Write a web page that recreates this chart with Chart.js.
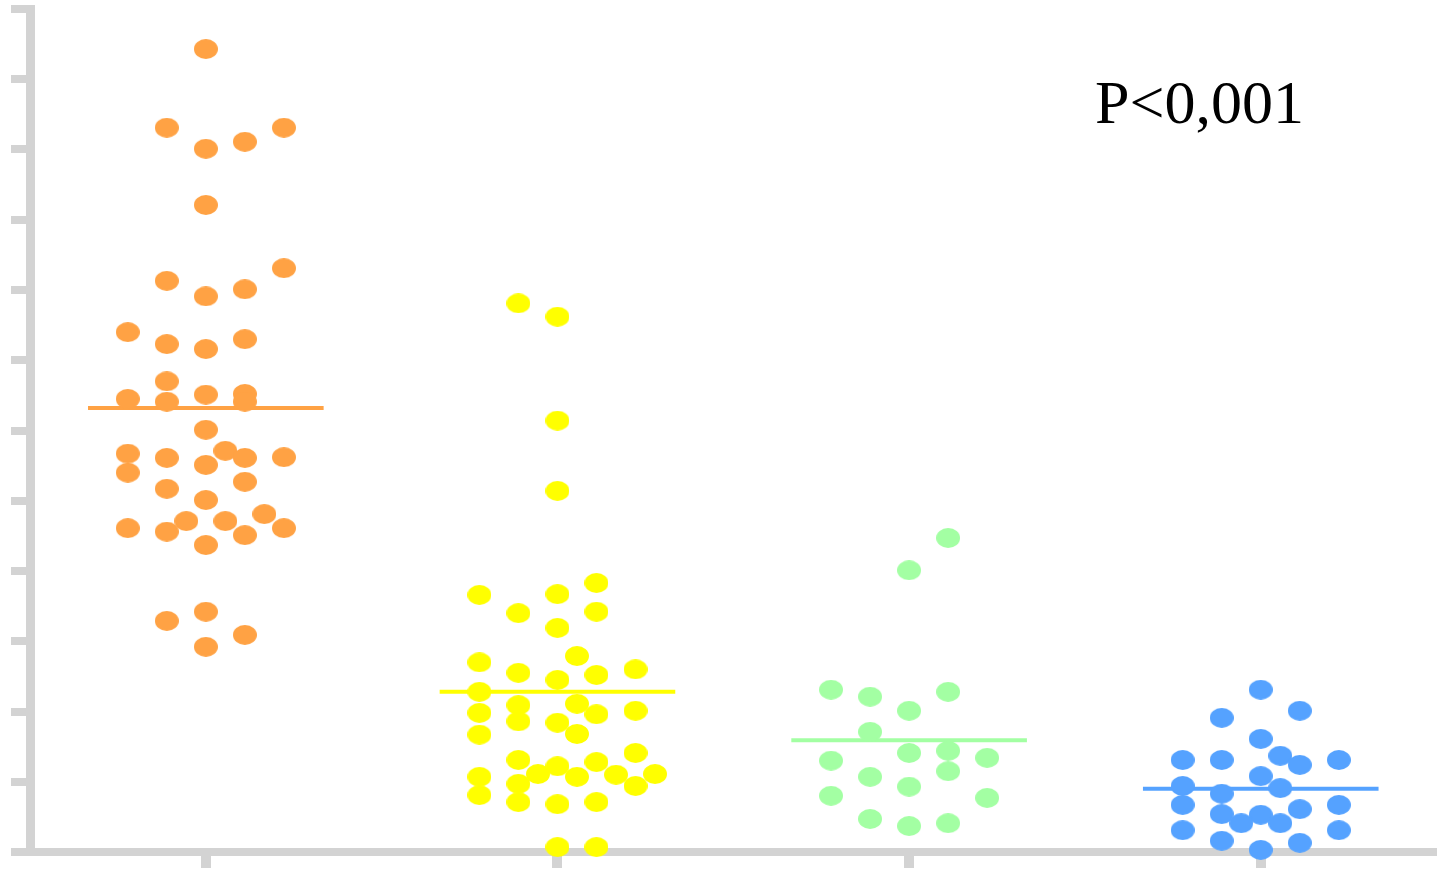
<!DOCTYPE html>
<html lang="en">
<head>
    <meta charset="UTF-8">
    <title>scatter</title>
    <style>
        body { margin: 0; background: #fff; }
        #wrap { position: relative; width: 1437px; height: 870px; }
        #pval { position: absolute; left: 1095px; top: 71px; font: 62px "Liberation Serif", "Times New Roman", serif; line-height: 1; color: #000; }
    </style>
</head>
<body>
    <div id="wrap">
        <canvas id="myChart"></canvas>
        <div id="pval">P&lt;0,001</div>
    </div>
    <script src="https://cdn.jsdelivr.net/npm/chart.js"></script>
    <script>
        // groups on the x axis
        const v_groups = [1, 2, 3, 4];
        const v_means = [6.32, 2.28, 1.59, 0.90];

        // values + jitter slot (column) of each dot
        const v_orangeY = [11.43, 10.31, 10.31, 10.01, 10.11, 9.21, 8.13, 8.31, 7.91, 8.01, 7.40, 7.23, 7.16, 7.30, 6.70, 6.45, 6.41, 6.51, 6.52, 6.41, 6.01, 5.67, 5.61, 5.51, 5.71, 5.61, 5.62, 5.40, 5.27, 5.17, 5.01, 4.61, 4.56, 4.71, 4.71, 4.81, 4.51, 4.61, 4.37, 3.29, 3.42, 3.09, 2.92];
        const v_orangeSlot = [0, -1, 2, 0, 1, 0, -1, 2, 0, 1, -2, -1, 0, 1, -1, -2, -1, 0, 1, 1, 0, -2, -1, 0, 0.5, 1, 2, -2, 1, -1, 0, -2, -1, -0.5, 0.5, 1.5, 1, 2, 0, -1, 0, 1, 0];

        const v_yellowY = [7.81, 7.62, 6.14, 5.14, 3.66, 3.40, 3.67, 3.83, 3.42, 3.19, 2.70, 2.55, 2.45, 2.79, 2.52, 2.60, 2.28, 1.98, 1.67, 2.09, 1.86, 1.84, 2.11, 1.68, 1.96, 2.01, 1.31, 1.22, 1.11, 1.07, 1.28, 1.10, 1.41, 1.11, 0.94, 1.07, 0.81, 0.97, 0.71, 0.68, 0.71, 0.07, 0.07];
        const v_yellowSlot = [-1, 0, 0, 0, -2, -1, 0, 1, 1, 0, -2, -1, 0, 0.5, 1, 2, -2, -2, -2, -1, -1, 0, 0.5, 0.5, 1, 2, -1, 0, -0.5, 0.5, 1, 1.5, 2, 2.5, 2, -2, -2, -1, -1, 0, 1, 0, 1];

        const v_greenY = [4.47, 4.01, 2.31, 2.21, 2.28, 2.01, 1.71, 1.30, 1.41, 1.44, 1.34, 1.07, 1.15, 0.93, 0.80, 0.77, 0.47, 0.37, 0.41];
        const v_greenSlot = [1, 0, -2, -1, 1, 0, -1, -2, 0, 1, 2, -1, 1, 0, -2, 2, -1, 0, 1];

        const v_blueY = [2.31, 1.91, 2.01, 1.61, 1.31, 1.31, 1.37, 1.24, 1.31, 1.08, 0.94, 0.83, 0.91, 0.67, 0.54, 0.53, 0.41, 0.41, 0.61, 0.67, 0.31, 0.31, 0.16, 0.13, 0.03];
        const v_blueSlot = [0, -1, 1, 0, -2, -1, 0.5, 1, 2, 0, -2, -1, 0.5, -2, -1, 0, -0.5, 0.5, 1, 2, -2, 2, -1, 1, 0];

        const v_colors = ['#ffa244', '#ffff00', '#a3ffa3', '#55a2ff'];
        const v_step = 0.111; // width of one jitter column
        const v_half = 0.335; // half width of mean line

        // ellipse shaped marker
        function f_dot(color){
            let c = document.createElement('canvas');
            c.width = 24; c.height = 20;
            let g = c.getContext('2d');
            g.fillStyle = color;
            g.beginPath();
            g.ellipse(12, 10, 12, 10, 0, 0, Math.PI * 2);
            g.fill();
            return c;
        }

        function f_points(center, ys, slots){
            let v_out = [];
            for(let i = 0; i < ys.length; i++){
                v_out.push({x: center + slots[i] * v_step, y: ys[i]});
            }
            return v_out;
        }

        const v_sets = [[v_orangeY, v_orangeSlot], [v_yellowY, v_yellowSlot], [v_greenY, v_greenSlot], [v_blueY, v_blueSlot]];
        let v_datasets = [];
        for(let i = 0; i < v_groups.length; i++){
            v_datasets.push({
                type: 'line',
                data: [{x: v_groups[i] - v_half, y: v_means[i]}, {x: v_groups[i] + v_half, y: v_means[i]}],
                borderColor: v_colors[i],
                borderWidth: 4,
                pointRadius: 0,
                order: 2,
                clip: false
            });
            v_datasets.push({
                type: 'scatter',
                data: f_points(v_groups[i], v_sets[i][0], v_sets[i][1]),
                pointStyle: f_dot(v_colors[i]),
                backgroundColor: v_colors[i],
                order: 1,
                clip: false
            });
        }

        const ctx = document.getElementById('myChart');
        new Chart(ctx, {
            type: 'scatter',
            data: { datasets: v_datasets },
            options: {
                responsive: true,
                maintainAspectRatio: false,
                animation: false,
                layout: { padding: { left: 11, top: 9, right: 0, bottom: 2 } },
                plugins: { legend: { display: false }, tooltip: { enabled: false } },
                scales: {
                    x: {
                        type: 'linear',
                        min: 0.5,
                        max: 4.487,
                        z: 1,
                        afterBuildTicks: (scale) => { scale.ticks = v_groups.map(v => ({value: v})); },
                        ticks: { display: false },
                        grid: { drawOnChartArea: false, drawTicks: true, tickLength: 16, color: '#d3d3d3', lineWidth: 10, tickWidth: 10 },
                        border: { color: '#d3d3d3', width: 8 }
                    },
                    y: {
                        min: 0,
                        max: 12,
                        z: 1,
                        ticks: { display: false, stepSize: 1 },
                        grid: { drawOnChartArea: false, drawTicks: true, tickLength: 19, color: '#d3d3d3', lineWidth: 8, tickWidth: 8 },
                        border: { color: '#d3d3d3', width: 9 }
                    }
                }
            }
        });
    </script>
</body>
</html>
